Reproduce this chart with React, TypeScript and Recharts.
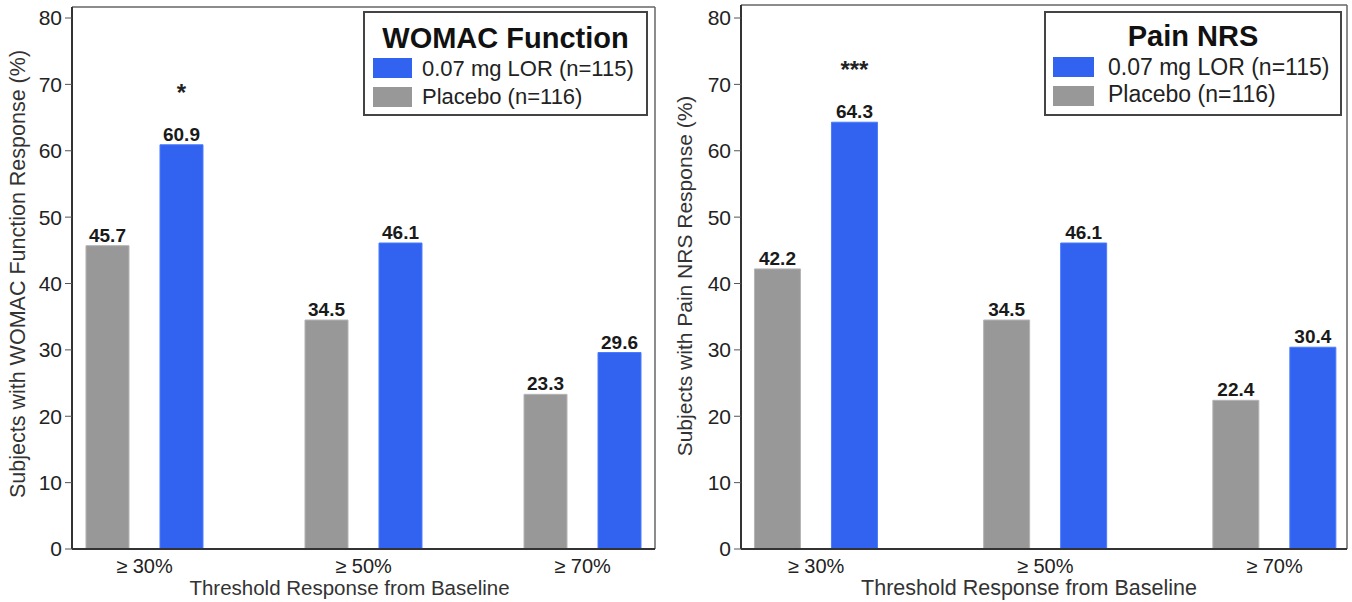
import React from 'react'
import { BarChart, Bar, XAxis, YAxis, LabelList } from 'recharts'

const categories = ['≥ 30%', '≥ 50%', '≥ 70%']
const yTicks = [0, 10, 20, 30, 40, 50, 60, 70, 80]
const seriesNames = ['0.07 mg LOR (n=115)', 'Placebo (n=116)']

const womacPlacebo = [45.7, 34.5, 23.3]
const womacLor = [60.9, 46.1, 29.6]
const womacSig = ['*', '', '']

const painPlacebo = [42.2, 34.5, 22.4]
const painLor = [64.3, 46.1, 30.4]
const painSig = ['***', '', '']

const BLUE = '#3162f0'
const GRAY = '#989898'
const FONT = "'Liberation Sans', Arial, sans-serif"

const buildRows = (placebo: number[], lor: number[], sig: string[]) =>
  categories.map((cat, i) => ({ idx: i, cat, placebo: placebo[i], lor: lor[i], sig: sig[i] }))

const SigLabel = (props: any) => {
  const { x, y, width, value } = props
  if (!value) return null
  return (
    <text x={Number(x) + Number(width) / 2} y={Number(y) - 44} textAnchor="middle"
      fontSize={24} fontWeight="bold" fill="#222" fontFamily={FONT}>
      {value}
    </text>
  )
}

type PanelProps = {
  left: number
  width: number
  yAxisWidth: number
  marginTop: number
  marginRight: number
  padTop: number
  xDomain: [number, number]
  barSize: number
  rows: ReturnType<typeof buildRows>
  yLabel: string
  yLabelSize: number
  yLabelDx: number
  yLabelDy: number
  xLabelSize: number
  xLabelDx: number
  legend: {
    x: number; y: number; w: number; h: number
    title: string; titleBaseline: number
    swatchX: number; swatchW: number; textX: number; itemSize: number
    itemTops: number[]; itemBaselines: number[]
  }
}

function Panel(p: PanelProps) {
  const lg = p.legend
  return (
    <div style={{ position: 'absolute', left: p.left, top: 0, width: p.width, height: 602 }}>
      <BarChart width={p.width} height={602} data={p.rows} barGap={31}
        margin={{ top: p.marginTop, right: p.marginRight, bottom: 0, left: 0 }}>
        {/* frame: top and right edges */}
        <XAxis xAxisId="frame" orientation="top" type="number" dataKey="idx" domain={p.xDomain}
          allowDataOverflow height={1} tick={false} tickLine={false} axisLine={{ stroke: '#666', strokeWidth: 1.5 }} />
        <YAxis yAxisId="frame" orientation="right" domain={[0, 80]} width={1} padding={{ top: p.padTop }}
          tick={false} tickLine={false} axisLine={{ stroke: '#666', strokeWidth: 1.5 }} />
        <XAxis type="number" dataKey="idx" domain={p.xDomain} allowDataOverflow ticks={[0, 1, 2]} interval={0}
          tickFormatter={(v: number) => categories[v]} height={53} tickLine={false} tickSize={0} tickMargin={10}
          axisLine={{ stroke: '#333', strokeWidth: 2 }}
          tick={{ fill: '#222', fontSize: 20, fontFamily: FONT }}
          label={{ value: 'Threshold Response from Baseline', position: 'insideBottom', offset: 7, dx: p.xLabelDx,
            fill: '#333', fontSize: p.xLabelSize, fontFamily: FONT }} />
        <YAxis domain={[0, 80]} ticks={yTicks} interval={0} width={p.yAxisWidth} padding={{ top: p.padTop }}
          tickSize={7} tickMargin={3} axisLine={{ stroke: '#333', strokeWidth: 2 }} tickLine={{ stroke: '#555' }}
          tick={{ fill: '#222', fontSize: 21, fontFamily: FONT }}
          label={{ value: p.yLabel, angle: -90, position: 'center', dx: p.yLabelDx, dy: p.yLabelDy,
            fill: '#333', fontSize: p.yLabelSize, fontFamily: FONT }} />
        <Bar dataKey="placebo" fill={GRAY} stroke="#b4b4b4" strokeWidth={1} barSize={p.barSize} isAnimationActive={false}>
          <LabelList dataKey="placebo" position="top" offset={4} fill="#1a1a1a" fontSize={19} fontWeight="bold" fontFamily={FONT} />
        </Bar>
        <Bar dataKey="lor" fill={BLUE} stroke="#4a7bff" strokeWidth={1} barSize={p.barSize} isAnimationActive={false}>
          <LabelList dataKey="lor" position="top" offset={4} fill="#1a1a1a" fontSize={19} fontWeight="bold" fontFamily={FONT} />
          <LabelList dataKey="sig" content={SigLabel} />
        </Bar>
      </BarChart>
      <svg width={p.width} height={130} style={{ position: 'absolute', left: 0, top: 0, pointerEvents: 'none' }}>
        <rect x={lg.x} y={lg.y} width={lg.w} height={lg.h} fill="#fff" stroke="#444" strokeWidth={2} />
        <text x={lg.x + lg.w / 2} y={lg.titleBaseline} textAnchor="middle" fontSize={29} fontWeight="bold"
          fill="#111" fontFamily={FONT}>{lg.title}</text>
        {seriesNames.map((name, i) => (
          <g key={name}>
            <rect x={lg.swatchX} y={lg.itemTops[i]} width={lg.swatchW} height={20} fill={i === 0 ? BLUE : GRAY} />
            <text x={lg.textX} y={lg.itemBaselines[i]} fontSize={lg.itemSize} fill="#222" fontFamily={FONT}>{name}</text>
          </g>
        ))}
      </svg>
    </div>
  )
}

export default function App() {
  return (
    <div style={{ position: 'absolute', left: 0, top: 0, width: 1352, height: 602, background: '#fff', overflow: 'hidden' }}>
      <Panel left={0} width={670} yAxisWidth={72} marginTop={6} marginRight={14} padTop={11}
        xDomain={[-0.331, 2.331]} barSize={43} rows={buildRows(womacPlacebo, womacLor, womacSig)}
        yLabel="Subjects with WOMAC Function Response (%)" yLabelSize={21.5} yLabelDx={-19} yLabelDy={-4}
        xLabelSize={20.5} xLabelDx={-14}
        legend={{ x: 364, y: 12, w: 283, h: 103, title: 'WOMAC Function', titleBaseline: 48,
          swatchX: 373, swatchW: 39, textX: 422, itemSize: 22, itemTops: [58, 87], itemBaselines: [76, 104] }} />
      <Panel left={670} width={682} yAxisWidth={71} marginTop={4} marginRight={4} padTop={13}
        xDomain={[-0.3275, 2.3166]} barSize={46} rows={buildRows(painPlacebo, painLor, painSig)}
        yLabel="Subjects with Pain NRS Response (%)" yLabelSize={21} yLabelDx={-21} yLabelDy={-1}
        xLabelSize={21.5} xLabelDx={-15}
        legend={{ x: 375, y: 12, w: 296, h: 103, title: 'Pain NRS', titleBaseline: 46,
          swatchX: 383, swatchW: 41, textX: 438, itemSize: 23, itemTops: [57, 86], itemBaselines: [75, 102] }} />
    </div>
  )
}
